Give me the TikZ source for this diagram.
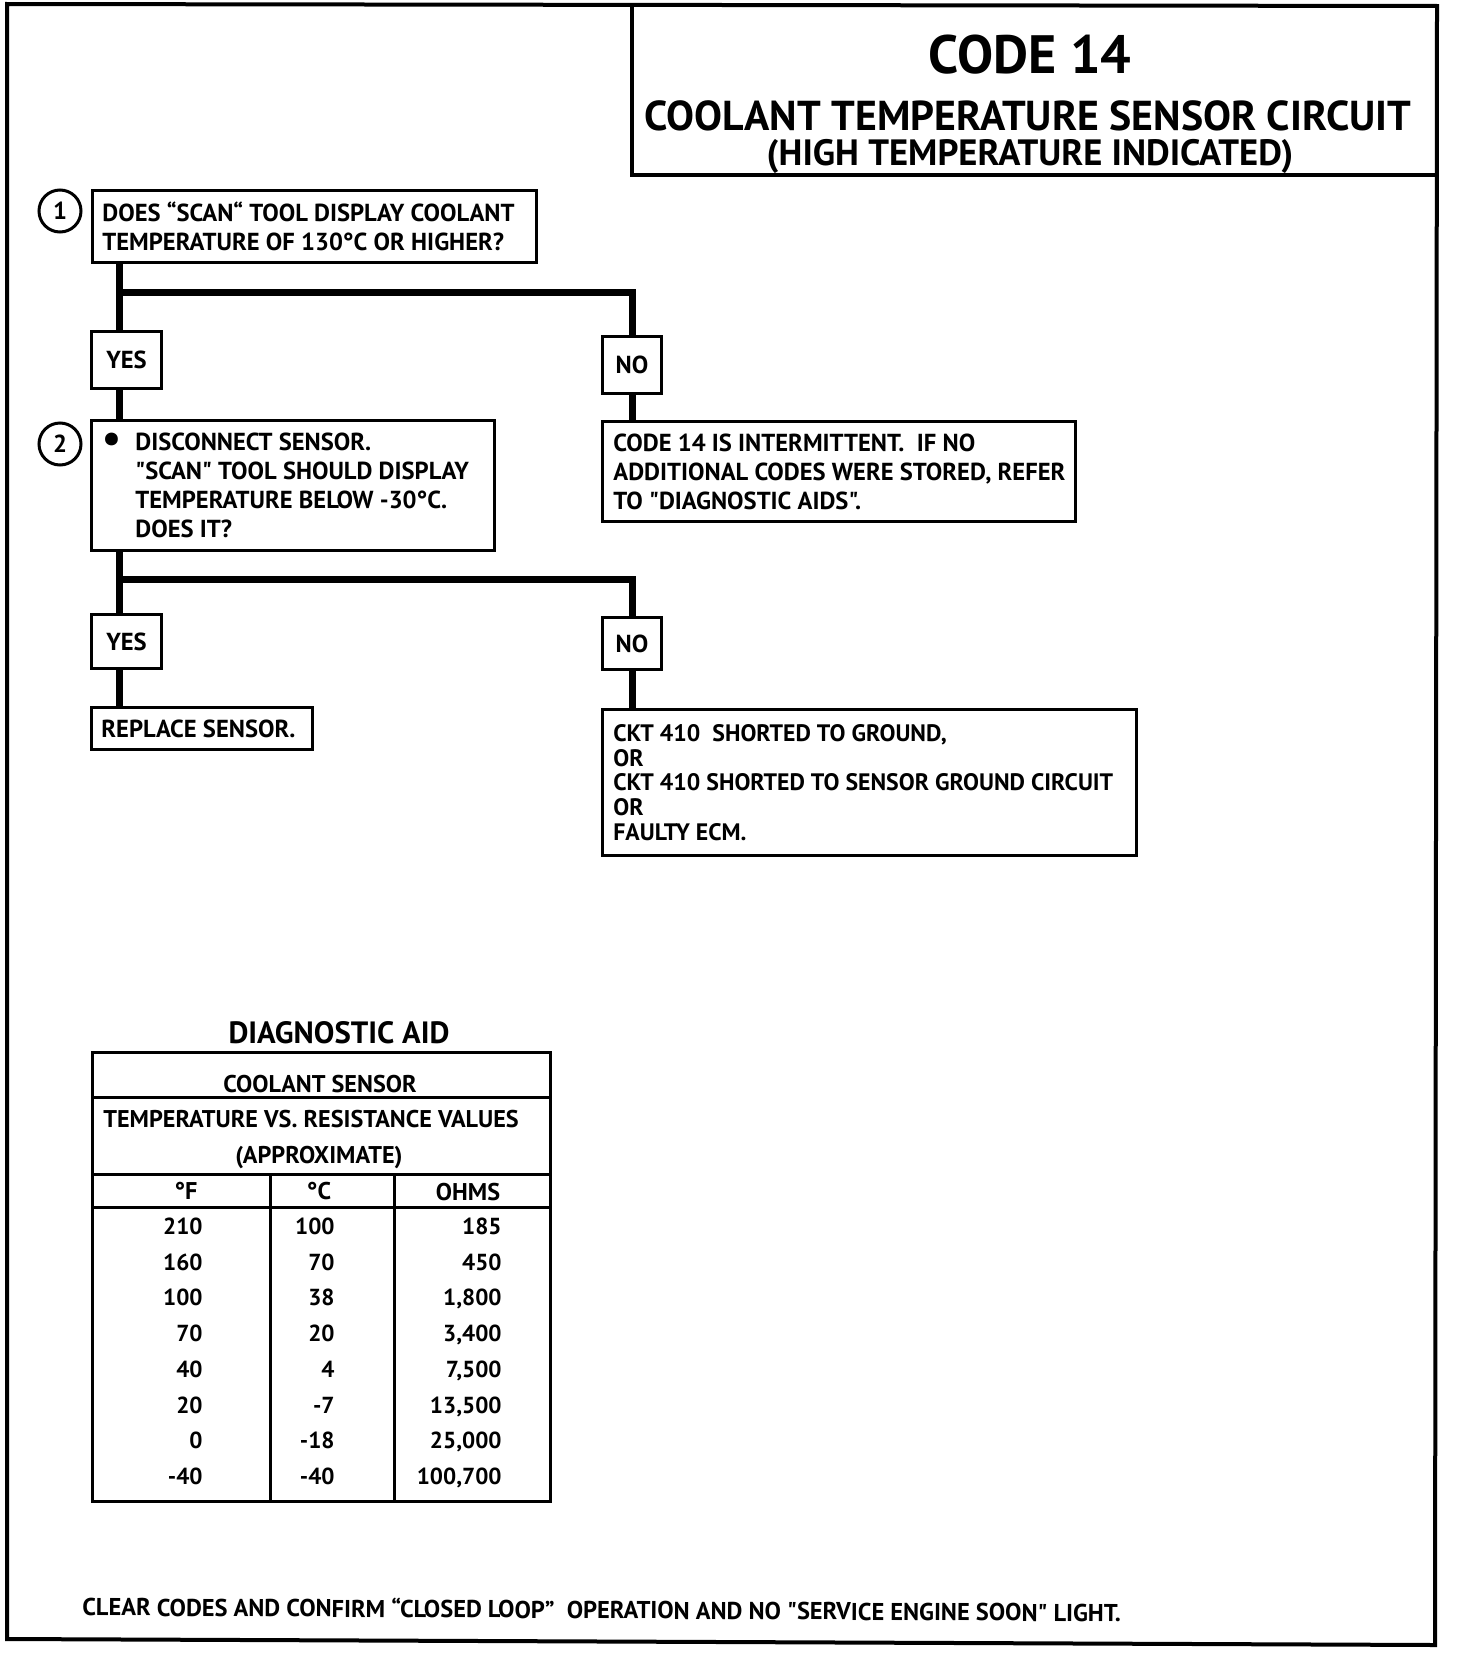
\documentclass[tikz,border=0pt]{standalone}
\usepackage{fontspec}
\setmainfont{PT Sans}[Ligatures=TeXOff]
\newcommand\ftxt{\fontsize{12.3}{14.5}\selectfont\bfseries}
\newcommand\ftab{\fontsize{12.1}{14}\selectfont\bfseries}
\newcommand\fnum{\fontsize{11.6}{14}\selectfont\bfseries}
\begin{document}
\begin{tikzpicture}[x=0.5pt,y=-0.5pt,
  frame/.style={line width=2pt},
  box/.style={draw,line width=1.5pt,anchor=north west,inner sep=0pt},
  txt/.style={anchor=west,align=left,inner sep=0pt,font=\ftxt},
  lab/.style={box,font=\ftxt},
  conn/.style={line width=3.5pt},
  num/.style={draw,circle,line width=1.5pt,minimum size=21pt,inner sep=0pt,font=\ftxt},
  tline/.style={line width=1.5pt},
  cell/.style={anchor=east,inner sep=0pt,text height=8.5pt,text depth=0pt,font=\fnum},
  ctr/.style={inner sep=0pt,text height=8.5pt,text depth=0pt,font=\ftab},
]
\useasboundingbox (0,0) rectangle (1456,1654);
% frame and title
\draw[frame] (7,4) -- (1437,6) -- (1435,1645) -- (7,1639) -- cycle;
\draw[frame] (632,5) -- (632,175) -- (1436,175);
\node[font=\fontsize{27}{30}\selectfont\bfseries,inner sep=0pt] (ti1) at (1030,55) {CODE 14};
\node[font=\fontsize{20.9}{23}\selectfont\bfseries,inner sep=0pt,text height=14.6pt,text depth=0pt] (ti2) at (1028,116) {COOLANT TEMPERATURE SENSOR CIRCUIT};
\node[font=\fontsize{18.3}{20}\selectfont\bfseries,inner sep=0pt,text height=12.8pt,text depth=0pt] (ti3) at (1030,153) {(HIGH TEMPERATURE INDICATED)};
% step numbers
\node[num] (n1) at (60,211) {1};
\node[num] (n2) at (60,444) {2};
% boxes
\node[box,minimum width=222pt,minimum height=36pt] (b1) at (91,189) {};
\node[txt] (b1t) at ([xshift=5.5pt]b1.west) {DOES “SCAN“ TOOL DISPLAY COOLANT\\TEMPERATURE OF 130°C OR HIGHER?};
\node[lab,minimum width=35pt,minimum height=28.5pt] (y1) at (90,330) {YES};
\node[lab,minimum width=29.5pt,minimum height=28.5pt] (no1) at (601,335) {NO};
\node[box,minimum width=201.5pt,minimum height=65pt] (b2) at (90,419) {};
\node[txt] (b2t) at ([xshift=5.5pt]b2.west) {\makebox[17pt][l]{\hspace{0.5pt}\raisebox{-0.8pt}{\scalebox{1.7}{•}}}DISCONNECT SENSOR.\\\hspace*{17pt}"SCAN" TOOL SHOULD DISPLAY\\\hspace*{17pt}TEMPERATURE BELOW -30°C.\\\hspace*{17pt}DOES IT?};
\node[box,minimum width=236.5pt,minimum height=50pt] (r1) at (601,420) {};
\node[txt] (r1t) at ([xshift=6pt]r1.west) {CODE 14 IS INTERMITTENT.\ \ IF NO\\ADDITIONAL CODES WERE STORED, REFER\\TO "DIAGNOSTIC AIDS".};
\node[lab,minimum width=35pt,minimum height=27pt] (y2) at (90,613) {YES};
\node[lab,minimum width=29.5pt,minimum height=26pt] (no2) at (601,616) {NO};
\node[box,minimum width=110.5pt,minimum height=21pt] (r2) at (90,706) {};
\node[txt] (r2t) at ([xshift=5.5pt]r2.west) {REPLACE SENSOR.};
\node[box,minimum width=267pt,minimum height=73pt] (r3) at (601,708) {};
\node[txt,font=\fontsize{11.9}{12.4}\selectfont\bfseries] (r3t) at ([xshift=6pt]r3.west) {CKT 410\ \ SHORTED TO GROUND,\\OR\\CKT 410 SHORTED TO SENSOR GROUND CIRCUIT\\OR\\FAULTY ECM.};
% connectors
\coordinate (j1) at (119,292);
\coordinate (j2) at (119,579);
\draw[conn] (b1.south -| j1) -- (y1.north -| j1);
\draw[conn] (j1) -| (no1.north);
\draw[conn] (y1.south -| j1) -- (b2.north -| j1);
\draw[conn] (no1.south) -- (r1.north -| no1.south);
\draw[conn] (b2.south -| j2) -- (y2.north -| j2);
\draw[conn] (j2) -| (no2.north);
\draw[conn] (y2.south -| j2) -- (r2.north -| j2);
\draw[conn] (no2.south) -- (r3.north -| no2.south);
% diagnostic aid table
\node[font=\fontsize{15.4}{18}\selectfont\bfseries,inner sep=0pt] (dt) at (339,1033) {DIAGNOSTIC AID};
\draw[tline] (92,1052) rectangle (550,1501);
\draw[tline] (92,1097) -- (550,1097);
\draw[tline] (92,1174) -- (550,1174);
\draw[tline] (92,1207) -- (550,1207);
\draw[tline] (270,1174) -- (270,1501);
\draw[tline] (394,1174) -- (394,1501);
\node[ctr] (h1) at (320,1084) {COOLANT SENSOR};
\node[ctr] (h2) at (311,1119) {TEMPERATURE VS. RESISTANCE VALUES};
\node[ctr] (h3) at (319,1155) {(APPROXIMATE)};
\node[ctr] (hf) at (186,1191) {°F};
\node[ctr] (hc) at (319,1191) {°C};
\node[ctr] (ho) at (468,1192) {OHMS};
\foreach \f/\c/\o [count=\i from 0] in {210/100/185,160/70/450,100/38/{1,800},70/20/{3,400},40/4/{7,500},20/-7/{13,500},0/-18/{25,000},-40/-40/{100,700}} {
  \node[cell] (f\i) at (203,1226+\i*35.7) {\f};
  \node[cell] (c\i) at (335,1226+\i*35.7) {\c};
  \node[cell] (o\i) at (502,1226+\i*35.7) {\o};
}
% footer
\node[font=\fontsize{12.2}{14}\selectfont\bfseries,inner sep=0pt,anchor=west,rotate=-0.33] (ft) at (82,1606) {CLEAR CODES AND CONFIRM “CLOSED LOOP”\ \ OPERATION AND NO "SERVICE ENGINE SOON" LIGHT.};
\end{tikzpicture}
\end{document}
